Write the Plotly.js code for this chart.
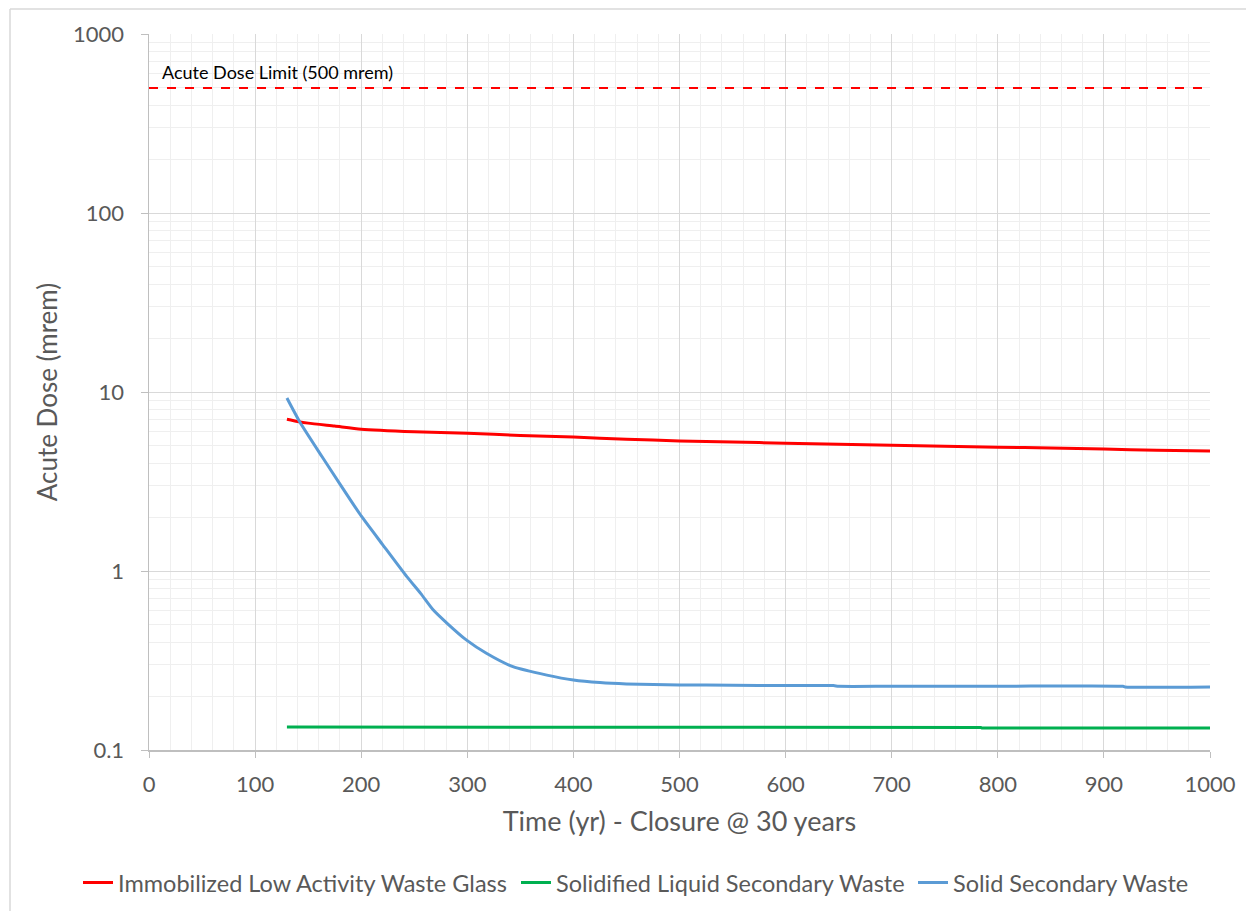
<!DOCTYPE html>
<html>
<head>
<meta charset="utf-8">
<script src="https://cdn.plot.ly/plotly-3.0.1.min.js"></script>
<style>html,body{margin:0;padding:0;background:#fff;}#chart{width:1246px;height:911px;}</style>
</head>
<body>
<div id="chart"></div>
<script>
// Immobilized Low Activity Waste Glass (red)
const ilawT = [130, 140, 150, 175, 200, 250, 300, 350, 400, 450, 500, 550, 600, 650, 700, 750, 800, 850, 900, 950, 1000];
const ilawV = [7.05, 6.85, 6.7, 6.45, 6.2, 6.0, 5.88, 5.72, 5.6, 5.45, 5.33, 5.25, 5.18, 5.1, 5.04, 4.97, 4.92, 4.86, 4.8, 4.72, 4.68];

// Solidified Liquid Secondary Waste (green)
const slswT = [130, 144, 145, 784, 785, 1000];
const slswV = [0.1345, 0.1345, 0.1335, 0.1335, 0.1325, 0.1325];

// Solid Secondary Waste (blue)
const sswT = [130, 142, 163, 180, 200, 220, 243, 256, 268, 281, 299, 318, 343, 375, 400, 425, 450, 500, 550, 600, 645, 650, 700, 800, 918, 920, 1000];
const sswV = [9.25, 6.82, 4.36, 3.06, 2.03, 1.41, 0.93, 0.75, 0.605, 0.51, 0.412, 0.347, 0.292, 0.262, 0.246, 0.238, 0.234, 0.231, 0.23, 0.229, 0.229, 0.227, 0.227, 0.227, 0.227, 0.225, 0.225];

// Acute dose limit
const limitT = [0, 1000];
const limitV = [500, 500];

const names = ["Immobilized Low Activity Waste Glass", "Solidified Liquid Secondary Waste", "Solid Secondary Waste"];
const FONT = "Lato, 'Open Sans', sans-serif";

const traces = [
  {x: ilawT, y: ilawV, name: names[0], mode: "lines", legend: "legend", line: {color: "#ff0000", width: 3, shape: "spline", smoothing: 0.6}},
  {x: slswT, y: slswV, name: names[1], mode: "lines", legend: "legend2", line: {color: "#00b050", width: 3}},
  {x: sswT, y: sswV, name: names[2], mode: "lines", legend: "legend3", line: {color: "#5b9bd5", width: 3, shape: "spline", smoothing: 0.6}},
  {x: limitT, y: limitV, name: "Acute Dose Limit", mode: "lines", showlegend: false,
   line: {color: "#ff0000", width: 2, dash: "dash"}}
];

function legendAt(px) {
  return {orientation: "h", xref: "container", x: px / 1246, xanchor: "left",
          yref: "container", y: 0.031, yanchor: "middle",
          font: {size: 23.5, color: "#595959"}, bgcolor: "rgba(0,0,0,0)"};
}

const layout = {
  width: 1246, height: 911,
  margin: {l: 149, r: 36, t: 34, b: 161},
  paper_bgcolor: "#ffffff", plot_bgcolor: "#ffffff",
  font: {family: FONT, color: "#595959", size: 18},
  showlegend: true,
  legend: legendAt(78),
  legend2: legendAt(516),
  legend3: legendAt(913),
  xaxis: {
    range: [0, 1000], dtick: 100, tick0: 0, automargin: false,
    showgrid: true, gridcolor: "#d9d9d9", gridwidth: 1,
    minor: {dtick: 20, showgrid: true, gridcolor: "#efefef", gridwidth: 1},
    showline: true, linecolor: "#bfbfbf", linewidth: 1.5,
    ticks: "outside", ticklen: 6, tickcolor: "#bfbfbf",
    ticklabelstandoff: 8,
    tickfont: {size: 22, color: "#595959"},
    zeroline: false,
    title: {text: "Time (yr) - Closure @ 30 years", font: {size: 27, color: "#595959"}, standoff: 16}
  },
  yaxis: {
    type: "log", range: [-1, 3], dtick: 1, automargin: false,
    showgrid: true, gridcolor: "#d9d9d9", gridwidth: 1,
    minor: {dtick: "D1", showgrid: true, gridcolor: "#efefef", gridwidth: 1},
    showline: true, linecolor: "#bfbfbf", linewidth: 1.5,
    ticks: "outside", ticklen: 7, tickcolor: "#bfbfbf",
    ticklabelstandoff: 12,
    tickfont: {size: 22, color: "#595959"},
    tickvals: [0.1, 1, 10, 100, 1000], ticktext: ["0.1", "1", "10", "100", "1000"],
    zeroline: false,
    title: {text: "Acute Dose (mrem)", font: {size: 26, color: "#595959"}, standoff: 8}
  },
  annotations: [{
    x: 10, y: Math.log10(500), xref: "x", yref: "y", xanchor: "left", yanchor: "bottom", yshift: 3,
    text: "Acute Dose Limit (500 mrem)", showarrow: false, font: {size: 18, color: "#000000", family: FONT}
  }],
  shapes: [
    {type: "line", xref: "paper", yref: "paper", x0: (10-149)/1061, x1: (1246-149)/1061, y0: (750-9)/716, y1: (750-9)/716,
     line: {color: "#d9d9d9", width: 1.5}},
    {type: "line", xref: "paper", yref: "paper", x0: (10-149)/1061, x1: (10-149)/1061, y0: (750-9)/716, y1: (750-911)/716,
     line: {color: "#d9d9d9", width: 1.5}}
  ]
};

Plotly.newPlot("chart", traces, layout, {displayModeBar: false, staticPlot: true});
</script>
</body>
</html>
